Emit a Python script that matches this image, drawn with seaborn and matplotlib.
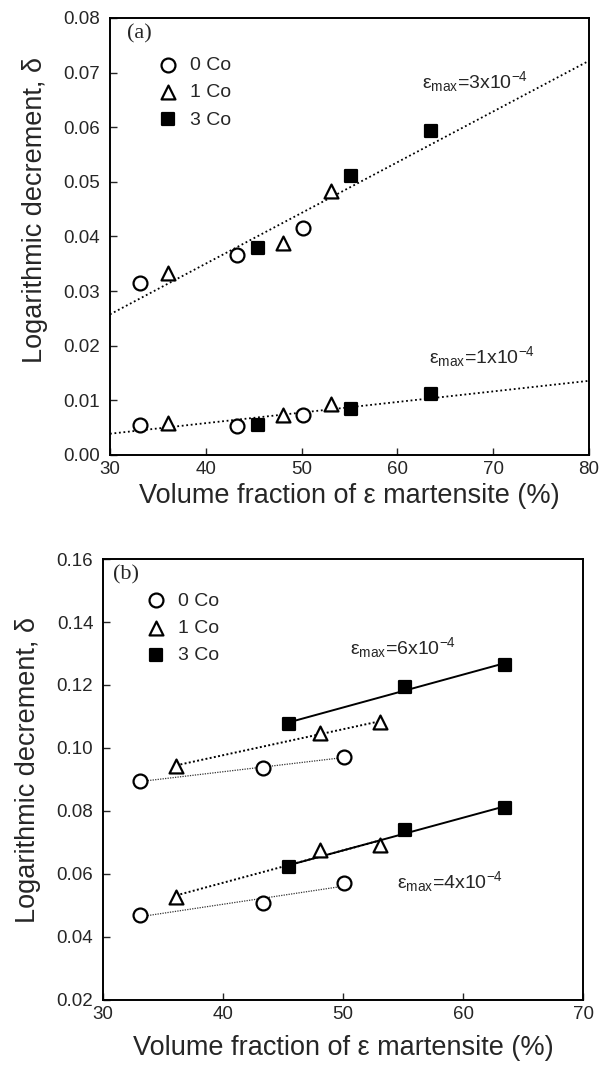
import numpy as np
import pandas as pd
import matplotlib
matplotlib.use("Agg")
import matplotlib.pyplot as plt
import seaborn as sns
from matplotlib.ticker import FormatStrFormatter

# ---------------- data ----------------
compositions = ["0 Co", "1 Co", "3 Co"]
vf_0co = [33.1, 43.3, 50.1]
vf_1co = [36.1, 48.1, 53.1]
vf_3co = [45.5, 55.2, 63.5]

# panel (a)
a_3e4_0co = [0.0314, 0.0366, 0.0416]
a_3e4_1co = [0.0333, 0.0388, 0.0484]
a_3e4_3co = [0.0379, 0.0510, 0.0593]
a_1e4_0co = [0.0055, 0.0053, 0.0073]
a_1e4_1co = [0.0058, 0.0073, 0.0093]
a_1e4_3co = [0.0054, 0.0085, 0.0112]

# panel (b)
b_6e4_0co = [0.0895, 0.0936, 0.0972]
b_6e4_1co = [0.0944, 0.1047, 0.1083]
b_6e4_3co = [0.1076, 0.1195, 0.1263]
b_4e4_0co = [0.0470, 0.0509, 0.0570]
b_4e4_1co = [0.0526, 0.0676, 0.0692]
b_4e4_3co = [0.0623, 0.0740, 0.0809]

a_xticks = [30, 40, 50, 60, 70, 80]
a_yticks = [0.00, 0.01, 0.02, 0.03, 0.04, 0.05, 0.06, 0.07, 0.08]
b_xticks = [30, 40, 50, 60, 70]
b_yticks = [0.02, 0.04, 0.06, 0.08, 0.10, 0.12, 0.14, 0.16]

xlabel = "Volume fraction of ε martensite (%)"
ylabel = "Logarithmic decrement, δ"

# ---------------- style ----------------
sns.set_style("ticks")
plt.rcParams["font.family"] = ["Liberation Sans", "DejaVu Sans"]
plt.rcParams["mathtext.fontset"] = "custom"
plt.rcParams["mathtext.rm"] = "Liberation Sans"
plt.rcParams["mathtext.it"] = "Liberation Sans:italic"
plt.rcParams["mathtext.bf"] = "Liberation Sans:bold"

LABEL_FS = 19.5
TICK_FS = 13.5
ANN_FS = 14

vf = {"0 Co": vf_0co, "1 Co": vf_1co, "3 Co": vf_3co}
markers = {"0 Co": "o", "1 Co": "^", "3 Co": "s"}
faces = {"0 Co": "white", "1 Co": "white", "3 Co": "black"}
sizes = {"0 Co": 100, "1 Co": 100, "3 Co": 80}


def frame(vals):
    return pd.DataFrame({"x": np.concatenate([vf[c] for c in compositions]),
                         "y": np.concatenate(vals),
                         "comp": np.repeat(compositions, 3)})


fig = plt.figure(figsize=(5.99, 10.67), dpi=100)
ax_a = fig.add_axes([0.1836, 0.5736, 0.7997, 0.4096])
ax_b = fig.add_axes([0.172, 0.0628, 0.8013, 0.4133])


def style_axes(ax, xt, yt):
    ax.set_xticks(xt)
    ax.set_yticks(yt)
    ax.set_xlim(xt[0], xt[-1])
    ax.set_ylim(yt[0], yt[-1])
    ax.yaxis.set_major_formatter(FormatStrFormatter("%.2f"))
    ax.tick_params(direction="in", length=5, width=1.0, labelsize=TICK_FS,
                   top=False, right=False)
    ax.tick_params(axis="y", pad=7)
    ax.tick_params(axis="x", pad=4)
    for s in ax.spines.values():
        s.set_visible(True)
        s.set_linewidth(1.4)
        s.set_color("black")


def label_axes(ax, xpad, ycoords):
    ax.set_xlabel(xlabel, fontsize=LABEL_FS, labelpad=xpad)
    ax.set_ylabel(ylabel, fontsize=LABEL_FS)
    ax.yaxis.set_label_coords(*ycoords)


def scatter_set(ax, vals, label=True):
    for c, v in zip(compositions, vals):
        sns.scatterplot(x=vf[c], y=v, ax=ax, marker=markers[c], s=sizes[c],
                        color=faces[c], edgecolor="black", linewidth=1.6,
                        label=c if label else None, zorder=5, legend=False)


# ---------------- panel (a) ----------------
style_axes(ax_a, a_xticks, a_yticks)
for vals in ([a_3e4_0co, a_3e4_1co, a_3e4_3co], [a_1e4_0co, a_1e4_1co, a_1e4_3co]):
    df = frame(vals)
    sns.regplot(data=df, x="x", y="y", ax=ax_a, scatter=False, ci=None,
                truncate=False, color="black",
                line_kws=dict(lw=1.3, linestyle=(0, (1, 1.5))))
scatter_set(ax_a, [a_3e4_0co, a_3e4_1co, a_3e4_3co], label=True)
scatter_set(ax_a, [a_1e4_0co, a_1e4_1co, a_1e4_3co], label=False)
ax_a.set_xlim(30, 80)
ax_a.set_ylim(0, 0.08)
label_axes(ax_a, 4, (-0.13, 0.561))
ax_a.text(0.035, 0.985, "(a)", transform=ax_a.transAxes, ha="left", va="top",
          fontsize=16, family=["Liberation Serif"])
ax_a.text(62.6, 0.0684, r"ε$_{\mathrm{max}}$=3x10$^{-4}$", fontsize=ANN_FS,
          ha="left", va="center")
ax_a.text(63.3, 0.0180, r"ε$_{\mathrm{max}}$=1x10$^{-4}$", fontsize=ANN_FS,
          ha="left", va="center")
ax_a.legend(loc="upper left", bbox_to_anchor=(0.08, 0.93), frameon=False,
            fontsize=14, handletextpad=0.55, labelspacing=0.5,
            borderaxespad=0, handlelength=1.2)

# ---------------- panel (b) ----------------
style_axes(ax_b, b_xticks, b_yticks)
line_styles = {"0 Co": dict(lw=0.9, linestyle=(0, (1, 1)), color="#333333"),
               "1 Co": dict(lw=1.4, linestyle=(0, (1, 1.2)), color="black"),
               "3 Co": dict(lw=1.4, linestyle="-", color="black")}
for vals in ([b_6e4_0co, b_6e4_1co, b_6e4_3co], [b_4e4_0co, b_4e4_1co, b_4e4_3co]):
    for c, v in zip(compositions, vals):
        ls = line_styles[c]
        sns.regplot(x=np.array(vf[c]), y=np.array(v), ax=ax_b, scatter=False,
                    ci=None, truncate=True, color=ls["color"],
                    line_kws=dict(lw=ls["lw"], linestyle=ls["linestyle"]))
scatter_set(ax_b, [b_6e4_0co, b_6e4_1co, b_6e4_3co], label=True)
scatter_set(ax_b, [b_4e4_0co, b_4e4_1co, b_4e4_3co], label=False)
ax_b.set_xlim(30, 70)
ax_b.set_ylim(0.02, 0.16)
label_axes(ax_b, 9, (-0.13, 0.522))
ax_b.text(0.02, 0.985, "(b)", transform=ax_b.transAxes, ha="left", va="top",
          fontsize=16, family=["Liberation Serif"])
ax_b.text(50.6, 0.1318, r"ε$_{\mathrm{max}}$=6x10$^{-4}$", fontsize=ANN_FS,
          ha="left", va="center")
ax_b.text(54.5, 0.0576, r"ε$_{\mathrm{max}}$=4x10$^{-4}$", fontsize=ANN_FS,
          ha="left", va="center")
ax_b.legend(loc="upper left", bbox_to_anchor=(0.069, 0.943), frameon=False,
            fontsize=14, handletextpad=0.55, labelspacing=0.5,
            borderaxespad=0, handlelength=1.2)

fig.savefig("out.png", dpi=100)
